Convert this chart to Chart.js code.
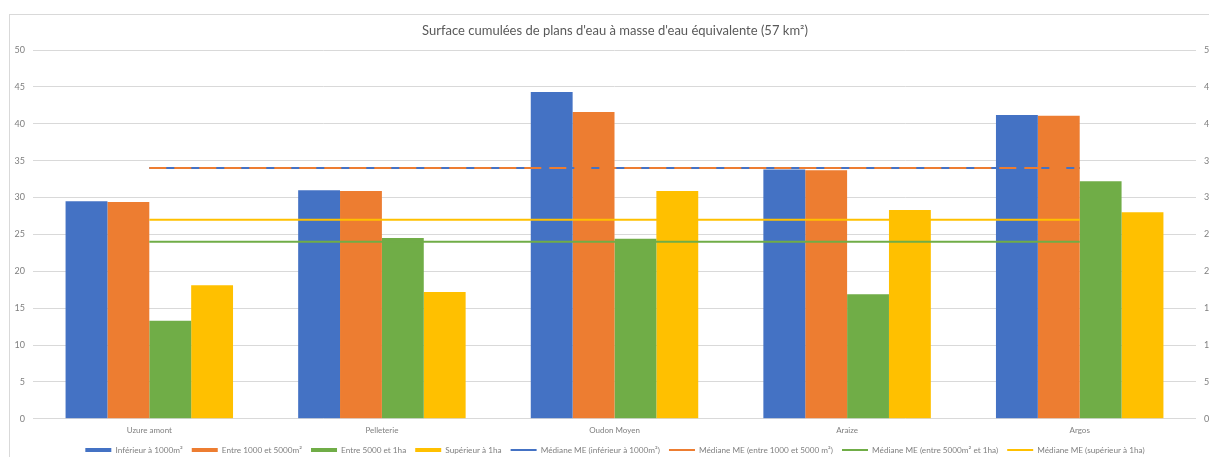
<!DOCTYPE html>
<html>
<head>
<meta charset="utf-8">
<script src="https://cdn.jsdelivr.net/npm/chart.js@4/dist/chart.umd.min.js"></script>
<style>
  html, body { margin: 0; padding: 0; background: #fff; overflow: hidden; }
  body { width: 1209px; height: 457px; position: relative; }
  #frame { position: absolute; left: 9px; top: 14px; width: 1300px; height: 1000px; border: 1px solid #d9d9d9; box-sizing: border-box; }
  #wrap { position: absolute; left: 0; top: 0; width: 1230px; height: 464px; }
</style>
</head>
<body>
<div id="frame"></div>
<div id="wrap"><canvas id="c" width="1230" height="464"></canvas></div>
<script>
// Masses d'eau
const categories = ['Uzure amont', 'Pelleterie', 'Oudon Moyen', 'Araize', 'Argos'];

// Surfaces cumulées par classe de taille
const inf1000 = [29.5, 31.0, 44.3, 33.8, 41.2];
const entre1000_5000 = [29.4, 30.9, 41.6, 33.7, 41.1];
const entre5000_1ha = [13.3, 24.5, 24.4, 16.9, 32.2];
const sup1ha = [18.1, 17.2, 30.9, 28.3, 28.0];

// Médianes ME par classe
const medInf1000 = [34, 34, 34, 34, 34];
const medEntre1000_5000 = [34, 34, 34, 34, 34];
const medEntre5000_1ha = [24, 24, 24, 24, 24];
const medSup1ha = [27, 27, 27, 27, 27];

const yTicks = [0, 5, 10, 15, 20, 25, 30, 35, 40, 45, 50];

const BLUE = '#4472C4', ORANGE = '#ED7D31', GREEN = '#70AD47', YELLOW = '#FFC000';
const TXT = '#7f7f7f';
const FONT = 'Lato, "Open Sans", sans-serif';

function bar(label, data, color) {
  return { type: 'bar', label, data, backgroundColor: color, borderWidth: 0, order: 10,
           categoryPercentage: 0.72, barPercentage: 1.0, yAxisID: 'y' };
}
function med(label, data, color, dash, order) {
  return { type: 'line', label, data, borderColor: color, backgroundColor: color, borderWidth: 2,
           borderDash: dash, pointRadius: 0, pointHoverRadius: 0, order, yAxisID: 'y' };
}

new Chart(document.getElementById('c'), {
  data: {
    labels: categories,
    datasets: [
      bar('Inférieur à 1000m²', inf1000, BLUE),
      bar('Entre 1000 et 5000m²', entre1000_5000, ORANGE),
      bar('Entre 5000 et 1ha', entre5000_1ha, GREEN),
      bar('Supérieur à 1ha', sup1ha, YELLOW),
      med('Médiane ME (inférieur à 1000m²)', medInf1000, BLUE, [], 4),
      med('Médiane ME (entre 1000 et 5000 m²)', medEntre1000_5000, ORANGE, [17, 8], 3),
      med('Médiane ME (entre 5000m² et 1ha)', medEntre5000_1ha, GREEN, [], 2),
      med('Médiane ME (supérieur à 1ha)', medSup1ha, YELLOW, [], 1)
    ]
  },
  options: {
    responsive: false,
    animation: false,
    layout: { padding: { left: 0, right: 0, top: 0, bottom: 0 } },
    plugins: {
      title: {
        display: true,
        text: "Surface cumulées de plans d'eau à masse d'eau équivalente (57 km²)",
        color: '#595959',
        font: { family: FONT, size: 13, weight: 'normal' },
        padding: { top: 23, bottom: 11.4 }
      },
      legend: {
        position: 'bottom',
        labels: {
          usePointStyle: true,
          pointStyleWidth: 26,
          boxHeight: 4,
          padding: 9,
          color: TXT,
          font: { family: FONT, size: 8.2 },
          sort: (a, b) => a.datasetIndex - b.datasetIndex,
          generateLabels(chart) {
            const items = Chart.defaults.plugins.legend.labels.generateLabels(chart);
            items.forEach(it => {
              const ds = chart.data.datasets[it.datasetIndex];
              if (ds.type === 'bar') {
                it.pointStyle = 'rect';
                it.lineWidth = 0;
                it.strokeStyle = ds.backgroundColor;
              } else {
                it.pointStyle = 'line';
                it.lineWidth = 2;
                it.strokeStyle = ds.borderColor;
              }
            });
            return items;
          }
        }
      },
      tooltip: { enabled: false }
    },
    scales: {
      x: {
        afterFit: s => { s.height = 18; },
        grid: { display: false, drawTicks: false },
        border: { display: false },
        ticks: { color: TXT, font: { family: FONT, size: 8 }, padding: 7 }
      },
      y: {
        position: 'left',
        min: 0, max: 50,
        afterBuildTicks: s => { s.ticks = yTicks.map(v => ({ value: v })); },
        afterFit: s => { s.width = 33; },
        grid: { color: '#d9d9d9', drawTicks: false },
        border: { display: false },
        ticks: { color: TXT, font: { family: FONT, size: 9 }, padding: 8 }
      },
      y2: {
        position: 'right',
        min: 0, max: 50,
        afterBuildTicks: s => { s.ticks = yTicks.map(v => ({ value: v })); },
        afterFit: s => { s.width = 34; },
        grid: { display: false, drawTicks: false },
        border: { display: false },
        ticks: { color: TXT, font: { family: FONT, size: 9 }, padding: 8 }
      }
    }
  }
});
</script>
</body>
</html>
